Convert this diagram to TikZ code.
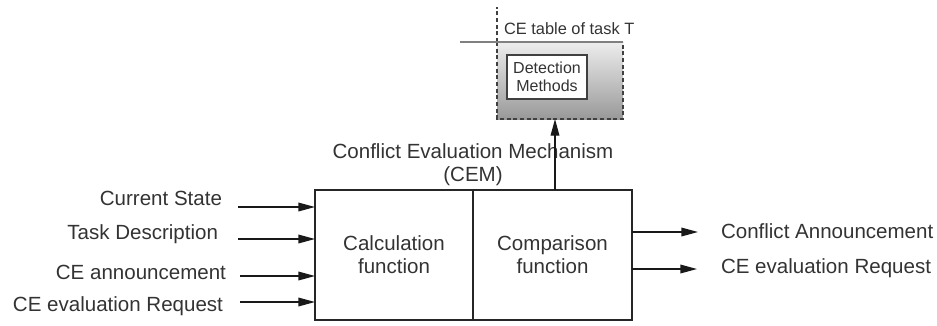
\documentclass[tikz,border=0pt]{standalone}
\usepackage{fontspec}
\setmainfont{Liberation Sans}
\usetikzlibrary{arrows.meta,calc}
\begin{document}
\begin{tikzpicture}[x=0.75pt,y=-0.75pt,
  every node/.style={inner sep=0pt,outer sep=0pt,text=black!80},
  lbl/.style={font=\fontsize{15.4}{17.5}\selectfont},
  fbox/.style={draw=black!85,line width=1pt,minimum height=97.5pt,
    align=center,font=\fontsize{15.4}{17.25}\selectfont},
  arr/.style={draw=black!90,line width=1pt,-{Triangle[length=12.5pt,width=6.5pt]}},
  small/.style={font=\fontsize{12}{13.5}\selectfont}]
\useasboundingbox (0,0) rectangle (937,325);

% mechanism boxes
\node[fbox,minimum width=118.5pt] (cal) at (394,255) {Calculation\\function};
\node[fbox,minimum width=119.25pt] (cmp) at (552.5,255) {Comparison\\function};

\node[lbl,align=center,font=\fontsize{15.4}{17.25}\selectfont] (cem) at (473,165)
  {Conflict Evaluation Mechanism\\(CEM)};

% input signals
\node[lbl,anchor=east] (in1) at (222,198) {Current State};
\node[lbl,anchor=east] (in2) at (218,234) {Task Description};
\node[lbl,anchor=east] (in3) at (226,272) {CE announcement};
\node[lbl,anchor=east] (in4) at (223,306) {CE evaluation Request};
\coordinate (s1) at (238,207);
\coordinate (s2) at (238,239);
\coordinate (s3) at (240,276);
\coordinate (s4) at (240,302);
\foreach \s in {s1,s2,s3,s4}
  \draw[arr] (\s) -- (\s -| cal.west);

% output signals
\coordinate (o1) at (632,232);
\coordinate (o2) at (632,269);
\node[lbl,anchor=west] (out1) at (721,231) {Conflict Announcement};
\node[lbl,anchor=west] (out2) at (721,268) {CE evaluation Request};
\draw[arr] (o1) -- (o1 -| 698,0);
\draw[arr] (o2) -- (o2 -| 697,0);

% CE table of task T
\node[minimum width=94.5pt,minimum height=57.75pt,
  top color=black!7,bottom color=black!40] (tab) at (560,80.5) {};
\draw[black!75,line width=0.9pt,dash pattern=on 3pt off 2pt]
  (tab.north west) -- (tab.south west) -- (tab.south east) -- (tab.north east);
\draw[black!75,line width=0.9pt,dash pattern=on 3pt off 2pt]
  (tab.north west) -- ++(0,-35);
\draw[black!50,line width=2.2pt] (460,42) -- (tab.north east);
\node[small,anchor=west,font=\fontsize{12.3}{13.5}\selectfont] (tabt) at (504,29) {CE table of task T};
\node[draw=black!75,fill=white,line width=1.2pt,minimum width=60pt,
  minimum height=33pt,align=center,small]
  (det) at (547,77) {Detection\\Methods};

\draw[arr] (cmp.north -| 555,0) -- (tab.south -| 555,0);
\end{tikzpicture}
\end{document}
